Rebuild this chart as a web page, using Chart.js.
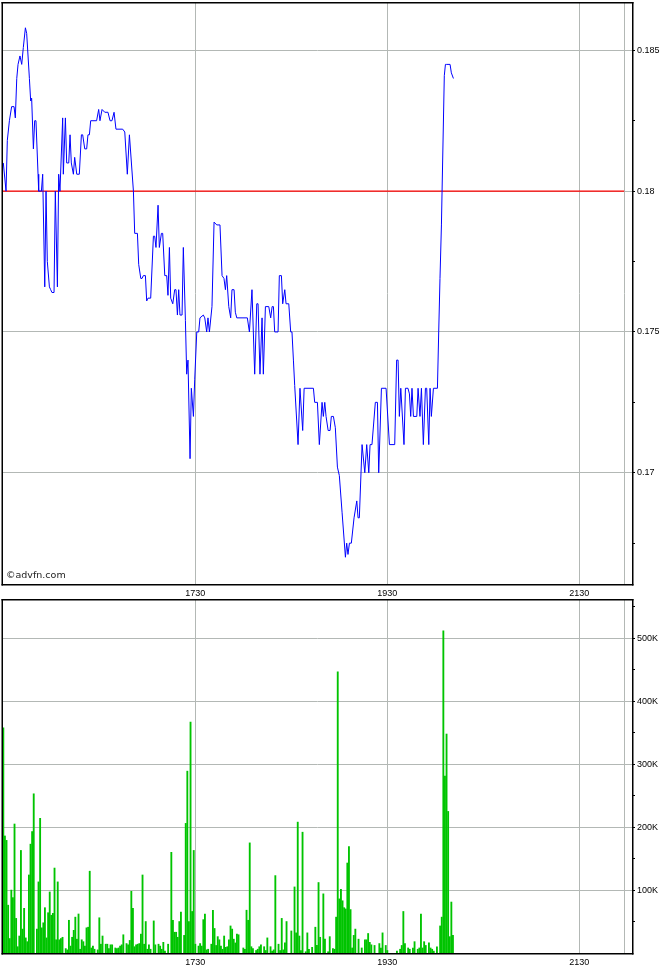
<!DOCTYPE html>
<html><head><meta charset="utf-8">
<script src="https://cdn.jsdelivr.net/npm/chart.js@4.4.1/dist/chart.umd.min.js"></script>
<style>
html,body{margin:0;padding:0;background:#fff;}
#wrap{position:relative;width:670px;height:970px;overflow:hidden;background:#fff;}
canvas{position:absolute;left:0;}
#priceCanvas{top:0;}
#volCanvas{top:598px;}
</style></head><body>
<div id="wrap">
<canvas id="priceCanvas" width="670" height="598"></canvas>
<canvas id="volCanvas" width="670" height="372"></canvas>
</div>
<script>
// ---- data (x = minutes after 15:30) ----
const priceTimes = [
  0,1.7,2.5,3.8,5.2,6.7,7.5,8.4,9.2,10.4,
  11.5,12.5,13.8,14.6,16.3,17.1,17.7,18.8,19.6,20.4,
  21.7,22.1,23.8,24.6,25.9,26.7,27.5,28.8,29.6,30.4,
  31.7,32.5,33.8,34.6,35.4,37.1,37.5,38.8,39.6,40.9,
  41.7,42.5,43.8,44.6,45.9,47.5,48.8,49.6,50.9,52.1,
  52.9,53.8,54.6,58.3,59.6,60.4,61.7,63.4,65.4,66.7,
  67.9,69.2,70.4,74.6,75.9,77.5,78.8,81.3,82.1,83.8,
  84.6,85.9,86.7,87.5,88.8,89.6,90.4,92.1,93.8,94.6,
  95.4,96.7,97.5,98.8,99.6,100.9,102.1,102.9,103.8,104.6,
  105.9,107.1,107.9,108.8,109.6,110.4,111.7,112.5,113.8,114.6,
  115.4,116.7,117.5,118.8,119.6,120.9,122.1,122.9,125.0,125.9,
  127.1,127.9,128.8,130.4,131.7,133.4,135.4,136.7,137.9,138.8,
  139.6,140.9,142.1,142.9,144.2,145.0,145.9,152.5,153.8,155.4,
  157.1,158.4,159.2,160.4,161.7,162.5,163.8,165.9,167.1,168.0,
  168.8,169.6,171.7,172.5,173.8,174.6,175.9,176.7,178.4,179.6,
  180.4,181.3,182.1,184.2,185.4,187.1,188.0,193.8,194.6,196.3,
  197.5,199.2,200.0,200.9,201.7,203.0,204.2,205.0,206.3,207.5,
  208.8,210.0,211.7,213.8,214.6,215.4,216.3,217.5,219.2,220.9,
  221.7,222.5,224.2,225.9,227.1,228.4,229.2,230.4,232.5,233.8,
  234.6,236.3,239.2,241.3,244.6,245.8,246.7,247.5,248.4,250.4,
  251.3,252.9,253.8,254.6,255.4,256.3,258.4,259.2,260.4,261.3,
  262.5,263.8,264.6,265.9,266.7,267.5,268.8,271.3,272.1,272.9,
  273.8,274.2,275.6,276.3,277.1,279.2,280.0,281.3
];
const prices = [
  0.1810,0.1800,0.1818,0.1825,0.1830,0.1830,0.1826,0.1840,0.1845,0.1848,
  0.1845,0.1851,0.1858,0.1856,0.1840,0.1832,0.1833,0.1815,0.1825,0.1825,
  0.1806,0.1800,0.1800,0.1806,0.1766,0.1800,0.1775,0.1766,0.1765,0.1764,
  0.1764,0.1800,0.1766,0.1806,0.1800,0.1826,0.1806,0.1826,0.1810,0.1810,
  0.1820,0.1810,0.1806,0.1812,0.1806,0.1806,0.1820,0.1820,0.1815,0.1815,
  0.1820,0.1820,0.1825,0.1825,0.1829,0.1825,0.1829,0.1828,0.1828,0.1825,
  0.1825,0.1828,0.1822,0.1822,0.1821,0.1806,0.1820,0.1800,0.1785,0.1785,
  0.1774,0.1769,0.1769,0.1770,0.1770,0.1761,0.1762,0.1762,0.1784,0.1784,
  0.1780,0.1795,0.1780,0.1785,0.1785,0.1770,0.1770,0.1763,0.1780,0.1762,
  0.1760,0.1765,0.1765,0.1756,0.1765,0.1756,0.1756,0.1780,0.1754,0.1735,
  0.1740,0.1705,0.1730,0.1720,0.1733,0.1750,0.1750,0.1755,0.1756,0.1755,
  0.1750,0.1755,0.1750,0.1759,0.1789,0.1788,0.1788,0.1770,0.1769,0.1765,
  0.1770,0.1759,0.1755,0.1765,0.1765,0.1757,0.1755,0.1755,0.1750,0.1765,
  0.1735,0.1760,0.1760,0.1735,0.1755,0.1735,0.1759,0.1759,0.1755,0.1759,
  0.1759,0.1750,0.1750,0.1770,0.1770,0.1760,0.1765,0.1760,0.1760,0.1750,
  0.1750,0.1740,0.1731,0.1710,0.1730,0.1715,0.1730,0.1730,0.1725,0.1725,
  0.1710,0.1725,0.1720,0.1725,0.1720,0.1715,0.1715,0.1720,0.1720,0.1716,
  0.1702,0.1699,0.1686,0.1670,0.1675,0.1671,0.1675,0.1675,0.1684,0.1690,
  0.1684,0.1684,0.1710,0.1700,0.1710,0.1700,0.1710,0.1710,0.1725,0.1725,
  0.1700,0.1730,0.1730,0.1710,0.1710,0.1740,0.1740,0.1720,0.1730,0.1710,
  0.1730,0.1730,0.1728,0.1720,0.1730,0.1720,0.1720,0.1730,0.1720,0.1730,
  0.1710,0.1730,0.1730,0.1710,0.1730,0.1720,0.1730,0.1730,0.1750,0.1769,
  0.1788,0.1800,0.1841,0.1845,0.1845,0.1845,0.1842,0.1840
];
const prevCloseTimes = [-0.2, 388];
const prevClose = 0.18;

const volumeTimes = [
  0,1,2,3,4,5,6,7,8,9,
  10,11,12,13,14,15,16,17,18,19,
  21,22,23,24,25,26,27,28,29,30,
  31,32,33,34,35,36,37,39,40,41,
  42,43,44,45,46,47,48,49,50,51,
  52,53,54,55,56,57,59,60,61,62,
  64,65,66,67,68,70,71,72,73,74,
  75,77,78,79,80,81,82,83,84,85,
  86,87,88,89,90,91,92,94,95,97,
  98,99,100,101,103,105,106,107,108,109,
  110,111,113,114,115,116,117,118,119,120,
  122,123,124,125,126,127,128,130,131,132,
  133,134,135,136,137,138,139,140,141,142,
  143,144,145,146,147,150,151,152,153,154,
  155,156,158,159,160,161,163,164,165,167,
  168,169,170,172,173,174,175,176,177,180,
  182,183,184,185,186,187,189,190,191,193,
  195,196,197,198,200,201,203,204,206,207,
  208,209,210,211,212,213,214,215,216,217,
  218,219,220,222,224,226,227,228,229,230,
  232,235,236,237,239,240,246,248,249,250,
  251,253,254,256,257,259,260,261,262,263,
  264,266,267,268,269,271,273,274,275,276,
  277,278,279,280,281
];
const volumes = [ // thousands of shares
  358,186,179,76,23,100,88,205,55,10,
  27,163,38,71,24,18,124,173,193,253,
  38,113,214,40,48,72,24,64,97,60,
  63,135,21,113,21,23,25,7,5,52,
  11,25,36,57,22,62,6,21,18,11,
  40,41,130,8,11,6,5,56,14,27,
  14,14,7,13,13,8,7,8,11,13,
  29,15,13,20,98,71,10,13,14,15,
  30,124,14,50,6,13,6,51,13,14,
  11,6,17,3,14,160,52,33,33,25,
  50,65,28,206,289,50,367,66,163,14,
  11,15,11,53,62,5,6,14,68,39,
  12,26,21,11,6,27,9,10,21,43,
  38,22,16,30,29,8,6,68,52,175,
  10,7,4,6,10,13,10,4,24,10,
  3,5,123,14,4,55,5,16,50,35,
  105,32,208,27,4,192,2,32,6,9,
  41,12,112,25,94,22,2,26,7,6,
  57,447,86,101,83,72,70,143,169,69,
  8,28,38,22,8,21,21,31,17,13,
  12,15,8,32,12,4,3,6,12,66,
  15,8,6,8,18,6,8,62,8,18,
  12,16,8,6,3,10,43,57,512,281,
  348,225,26,81,28
];

const xGridValues = [120, 240, 360, 388];
const xTickLabels = ['1730', '1930', '2130', ''];
const priceTickValues = [0.1675, 0.17, 0.1725, 0.175, 0.1775, 0.18, 0.1825, 0.185];
const priceTickLabels = ['', '0.17', '', '0.175', '', '0.18', '', '0.185'];
const volumeTickValues = [50, 100, 150, 200, 250, 300, 350, 400, 450, 500, 550];
const volumeTickLabels = ['', '100K', '', '200K', '', '300K', '', '400K', '', '500K', ''];

// ---- styling ----
Chart.defaults.font.family = "'Liberation Sans', Arial, sans-serif";
Chart.defaults.font.size = 9;
Chart.defaults.color = '#000';
const GRID = '#b3b8b5';
const NONE = 'rgba(0,0,0,0)';

const framePlugin = {
  id: 'frame',
  afterDraw(chart, args, opts) {
    const { ctx, chartArea: a } = chart;
    ctx.save();
    ctx.fillStyle = '#000';
    ctx.fillRect(a.left - 1.5, a.top - 1, 1.5, a.bottom - a.top + 2.5);
    ctx.fillRect(a.left - 1.5, a.top - 1, a.right - a.left + 3, 1.5);
    ctx.fillRect(a.left - 1.5, a.bottom, a.right - a.left + 3, 1.5);
    ctx.fillRect(a.right, a.top - 1, 1.5, a.bottom - a.top + 2.5);
    if (opts && opts.text) {
      ctx.font = "9.5px 'DejaVu Sans', sans-serif";
      ctx.fillStyle = '#222';
      ctx.textBaseline = 'alphabetic';
      ctx.textAlign = 'left';
      ctx.fillText(opts.text, a.left + 3, a.bottom - 6);
    }
    ctx.restore();
  }
};

function xScale(h) {
  return {
    type: 'linear', min: -0.2, max: 392.9, offset: false,
    afterBuildTicks: a => { a.ticks = xGridValues.map(v => ({ value: v })); },
    ticks: { autoSkip: false, maxRotation: 0, padding: 4, callback: (v, i) => xTickLabels[i] },
    grid: { color: GRID, drawTicks: false, lineWidth: 1, offset: false },
    border: { display: false },
    afterFit: s => { s.height = h; s.paddingLeft = 0; s.paddingRight = 0; }
  };
}

function yScale(min, max, values, labels) {
  return {
    position: 'right', min: min, max: max, grace: 0,
    afterBuildTicks: a => { a.ticks = values.map(v => ({ value: v })); },
    ticks: { autoSkip: false, padding: 2, callback: (v, i) => labels[i] },
    grid: {
      color: c => (labels[c.index] ? GRID : NONE),
      tickColor: '#000', tickLength: 3, drawTicks: true
    },
    border: { display: false },
    afterFit: s => { s.width = 38; s.paddingTop = 0; s.paddingBottom = 0; }
  };
}

const commonOpts = {
  responsive: false, animation: false, devicePixelRatio: 1, events: [],
  plugins: { legend: { display: false }, tooltip: { enabled: false } }
};

// ---- price chart ----
new Chart(document.getElementById('priceCanvas'), {
  type: 'line',
  data: {
    datasets: [
      {
        data: priceTimes.map((t, i) => ({ x: t, y: prices[i] })),
        borderColor: '#0000ff', borderWidth: 1, pointRadius: 0, tension: 0, fill: false
      },
      {
        data: prevCloseTimes.map(t => ({ x: t, y: prevClose })),
        borderColor: '#ff0000', borderWidth: 1.2, pointRadius: 0, tension: 0, fill: false
      }
    ]
  },
  options: Object.assign({}, commonOpts, {
    layout: { padding: { left: 3, top: 3, right: 0, bottom: 0 } },
    plugins: Object.assign({}, commonOpts.plugins, { frame: { text: '©advfn.com' } }),
    scales: {
      x: xScale(14),
      y: yScale(0.16605, 0.18668, priceTickValues, priceTickLabels)
    }
  }),
  plugins: [framePlugin]
});

// ---- volume chart ----
new Chart(document.getElementById('volCanvas'), {
  type: 'bar',
  data: {
    datasets: [{
      data: volumeTimes.map((t, i) => ({ x: t, y: volumes[i] })),
      backgroundColor: '#00c400', borderWidth: 0, barThickness: 1.2
    }]
  },
  options: Object.assign({}, commonOpts, {
    layout: { padding: { left: 3, top: 2, right: 0, bottom: 0 } },
    plugins: Object.assign({}, commonOpts.plugins, { frame: {} }),
    scales: {
      x: xScale(17),
      y: yScale(0, 561, volumeTickValues, volumeTickLabels)
    }
  }),
  plugins: [framePlugin]
});
</script>
</body></html>
